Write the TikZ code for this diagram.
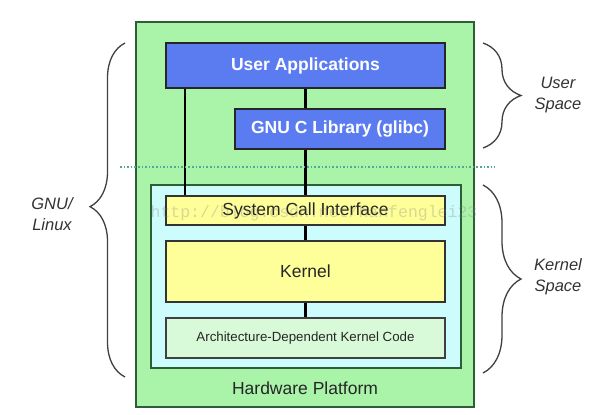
\documentclass[tikz,border=0pt]{standalone}
\usepackage{fontspec}
\setmainfont{Liberation Sans}
\newfontfamily\wmfont{Liberation Mono}
\usetikzlibrary{decorations.pathreplacing}
\definecolor{outergreen}{HTML}{AAF4AA}
\definecolor{outerborder}{HTML}{2E5E36}
\definecolor{ublue}{HTML}{5A7CF0}
\definecolor{innercyan}{HTML}{CCFCFC}
\definecolor{kyellow}{HTML}{FFFF99}
\definecolor{archgreen}{HTML}{D8FAD8}
\definecolor{dotteal}{HTML}{4FA89A}
\tikzset{
  box/.style={draw=#1, line width=1.8pt, inner sep=0pt},
  bluebox/.style={box=black!85, fill=ublue, text=white, font=\bfseries\fontsize{17.5}{20}\selectfont},
  yellowbox/.style={box=black!80, fill=kyellow, text=black!85, font=\fontsize{17.5}{20}\selectfont},
  archbox/.style={box=black!75, fill=archgreen, text=black!85, font=\fontsize{13.3}{16}\selectfont},
  conn/.style={line width=2.2pt, black},
  bracestyle/.style={decorate, line width=1.3pt, black!75},
  sidetext/.style={font=\itshape\fontsize{16.5}{21}\selectfont, text=black!80, align=center}
}
\begin{document}
\begin{tikzpicture}[x=1pt,y=-1pt]
\useasboundingbox (0,0) rectangle (611,415);
\fill[white] (0,0) rectangle (611,415);
% outer
\node[box=outerborder, fill=outergreen, minimum width=338pt, minimum height=385pt] (outer) at (305,214.5) {};
\node[bluebox, minimum width=279pt, minimum height=45pt] (ua) at (305.5,65.5) {User Applications};
\node[bluebox, minimum width=210pt, minimum height=40pt] (glibc) at (340,129) {GNU C Library (glibc)};
\node[box=outerborder, fill=innercyan, minimum width=310pt, minimum height=183pt] (inner) at (306,276.5) {};
\node[yellowbox, minimum width=279pt, minimum height=29pt] (sci) at (305.5,210.5) {System Call Interface};
\node[yellowbox, minimum width=279pt, minimum height=61pt] (kernel) at (305.5,271.5) {Kernel};
\node[archbox, minimum width=279pt, minimum height=40pt] (arch) at (305.5,338) {Architecture-Dependent Kernel Code};
\node[font=\fontsize{17.5}{20}\selectfont, text=black!85] (hw) at (305,388) {Hardware Platform};
% connectors
\draw[conn] ([xshift=20pt]ua.south west) -- ([xshift=20pt]sci.north west);
\draw[conn] (ua.south) -- (ua.south |- glibc.north);
\draw[conn] (ua.south |- glibc.south) -- (ua.south |- sci.north);
\draw[conn] (sci.south) -- (kernel.north);
\draw[conn] (kernel.south) -- (arch.north);
% dotted separator
\coordinate (sepL) at (120,167);
\coordinate (sepR) at (495,167);
\draw[dotteal, line width=1.6pt, dotted] (sepL) -- (sepR);
% braces
\coordinate (lbB) at (125,377);
\coordinate (lbT) at (125,43);
\draw[bracestyle, decoration={brace, amplitude=35pt, aspect=0.51}] (lbB) -- (lbT);
\coordinate (ubT) at (483,43);
\coordinate (ubB) at (483,148);
\draw[bracestyle, decoration={brace, amplitude=38pt}] (ubT) -- (ubB);
\coordinate (kbT) at (483,185);
\coordinate (kbB) at (483,373);
\draw[bracestyle, decoration={brace, amplitude=38pt}] (kbT) -- (kbB);
% side labels
\node[sidetext] (gnu) at (52,214) {GNU/\\Linux};
\node[sidetext] (us) at (558,95) {User\\Space};
\node[sidetext] (ks) at (558,277) {Kernel\\Space};
% watermark
\node[font=\wmfont\fontsize{16.5}{18}\selectfont, text=gray, opacity=0.3] (wm) at (314,213) {http://blog.csdn.net/hanfenglei23};
\end{tikzpicture}
\end{document}
